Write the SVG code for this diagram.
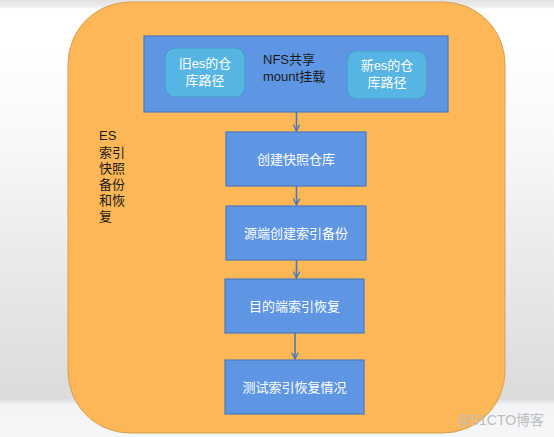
<svg xmlns="http://www.w3.org/2000/svg" width="554" height="437" viewBox="0 0 554 437">
<defs>
<linearGradient id="bg" x1="0" y1="0" x2="0" y2="437" gradientUnits="userSpaceOnUse">
<stop offset="0" stop-color="#e2e2e2"/>
<stop offset="0.016" stop-color="#eeeeee"/>
<stop offset="0.02" stop-color="#ffffff"/>
<stop offset="0.09" stop-color="#ffffff"/>
<stop offset="0.343" stop-color="#f7f7f7"/>
<stop offset="0.618" stop-color="#e9e9e9"/>
<stop offset="0.912" stop-color="#dbdbdb"/>
<stop offset="0.926" stop-color="#f3f4f6"/>
<stop offset="1" stop-color="#f5f6f8"/>
</linearGradient>
<marker id="ah" viewBox="0 0 10 10" refX="9" refY="5" markerWidth="8" markerHeight="8" markerUnits="userSpaceOnUse" orient="auto">
<path d="M1,1 L9,5 L1,9" fill="none" stroke="#4a78b8" stroke-width="1.6"/>
</marker>
</defs>
<style>
.cn{font-family:"Liberation Sans","Noto Sans CJK SC",sans-serif;font-size:13px}
.step{fill:#5e96e3;stroke:#4a7bbd;stroke-width:1.2}
.inner{fill:#56b5e3;stroke:#4a9bcb;stroke-width:1.2}
.wt{fill:#ffffff}
.bk{fill:#1a1a1a}
.conn{stroke:#4a78b8;stroke-width:1.6;fill:none;marker-end:url(#ah)}
</style>
<rect x="0" y="0" width="554" height="437" fill="url(#bg)"/>
<g id="container">
<rect x="68" y="2" width="437" height="431" rx="62" ry="62" fill="#fdb757" stroke="#d5a050" stroke-width="1"/>
<text class="cn bk"><tspan x="99" y="140">ES</tspan><tspan x="99" y="157">索引</tspan><tspan x="99" y="173">快照</tspan><tspan x="99" y="189">备份</tspan><tspan x="99" y="205">和恢</tspan><tspan x="99" y="221">复</tspan></text>
</g>
<g id="nfs">
<rect x="144" y="36" width="304" height="76" class="step"/>
<text class="cn bk"><tspan x="263" y="64">NFS共享</tspan><tspan x="263" y="81">mount挂载</tspan></text>
</g>
<g id="old-repo">
<rect x="165" y="48" width="80" height="49" rx="10" ry="10" class="inner"/>
<text class="cn wt" text-anchor="middle"><tspan x="205" y="68">旧es的仓</tspan><tspan x="205" y="85">库路径</tspan></text>
</g>
<g id="new-repo">
<rect x="347" y="51" width="80" height="48" rx="10" ry="10" class="inner"/>
<text class="cn wt" text-anchor="middle"><tspan x="387" y="70">新es的仓</tspan><tspan x="387" y="87">库路径</tspan></text>
</g>
<g id="step1">
<rect x="226" y="132" width="140" height="54" class="step"/>
<text class="cn wt" x="296" y="163.5" text-anchor="middle">创建快照仓库</text>
</g>
<g id="step2">
<rect x="226" y="206" width="140" height="54" class="step"/>
<text class="cn wt" x="296" y="238" text-anchor="middle">源端创建索引备份</text>
</g>
<g id="step3">
<rect x="225" y="279" width="139" height="54" class="step"/>
<text class="cn wt" x="294.5" y="311" text-anchor="middle">目的端索引恢复</text>
</g>
<g id="step4">
<rect x="225" y="360" width="139" height="54" class="step"/>
<text class="cn wt" x="294.5" y="392" text-anchor="middle">测试索引恢复情况</text>
</g>
<g id="connectors">
<line x1="296.5" y1="112" x2="296.5" y2="131" class="conn"/>
<line x1="296.5" y1="186" x2="296.5" y2="205" class="conn"/>
<line x1="296.5" y1="260" x2="296.5" y2="278" class="conn"/>
<line x1="295" y1="333" x2="295" y2="359" class="conn"/>
</g>
<text x="457" y="425" font-family="Liberation Sans,Noto Sans CJK SC,sans-serif" font-size="14" fill="#bdbdbd">@51CTO博客</text>
</svg>
